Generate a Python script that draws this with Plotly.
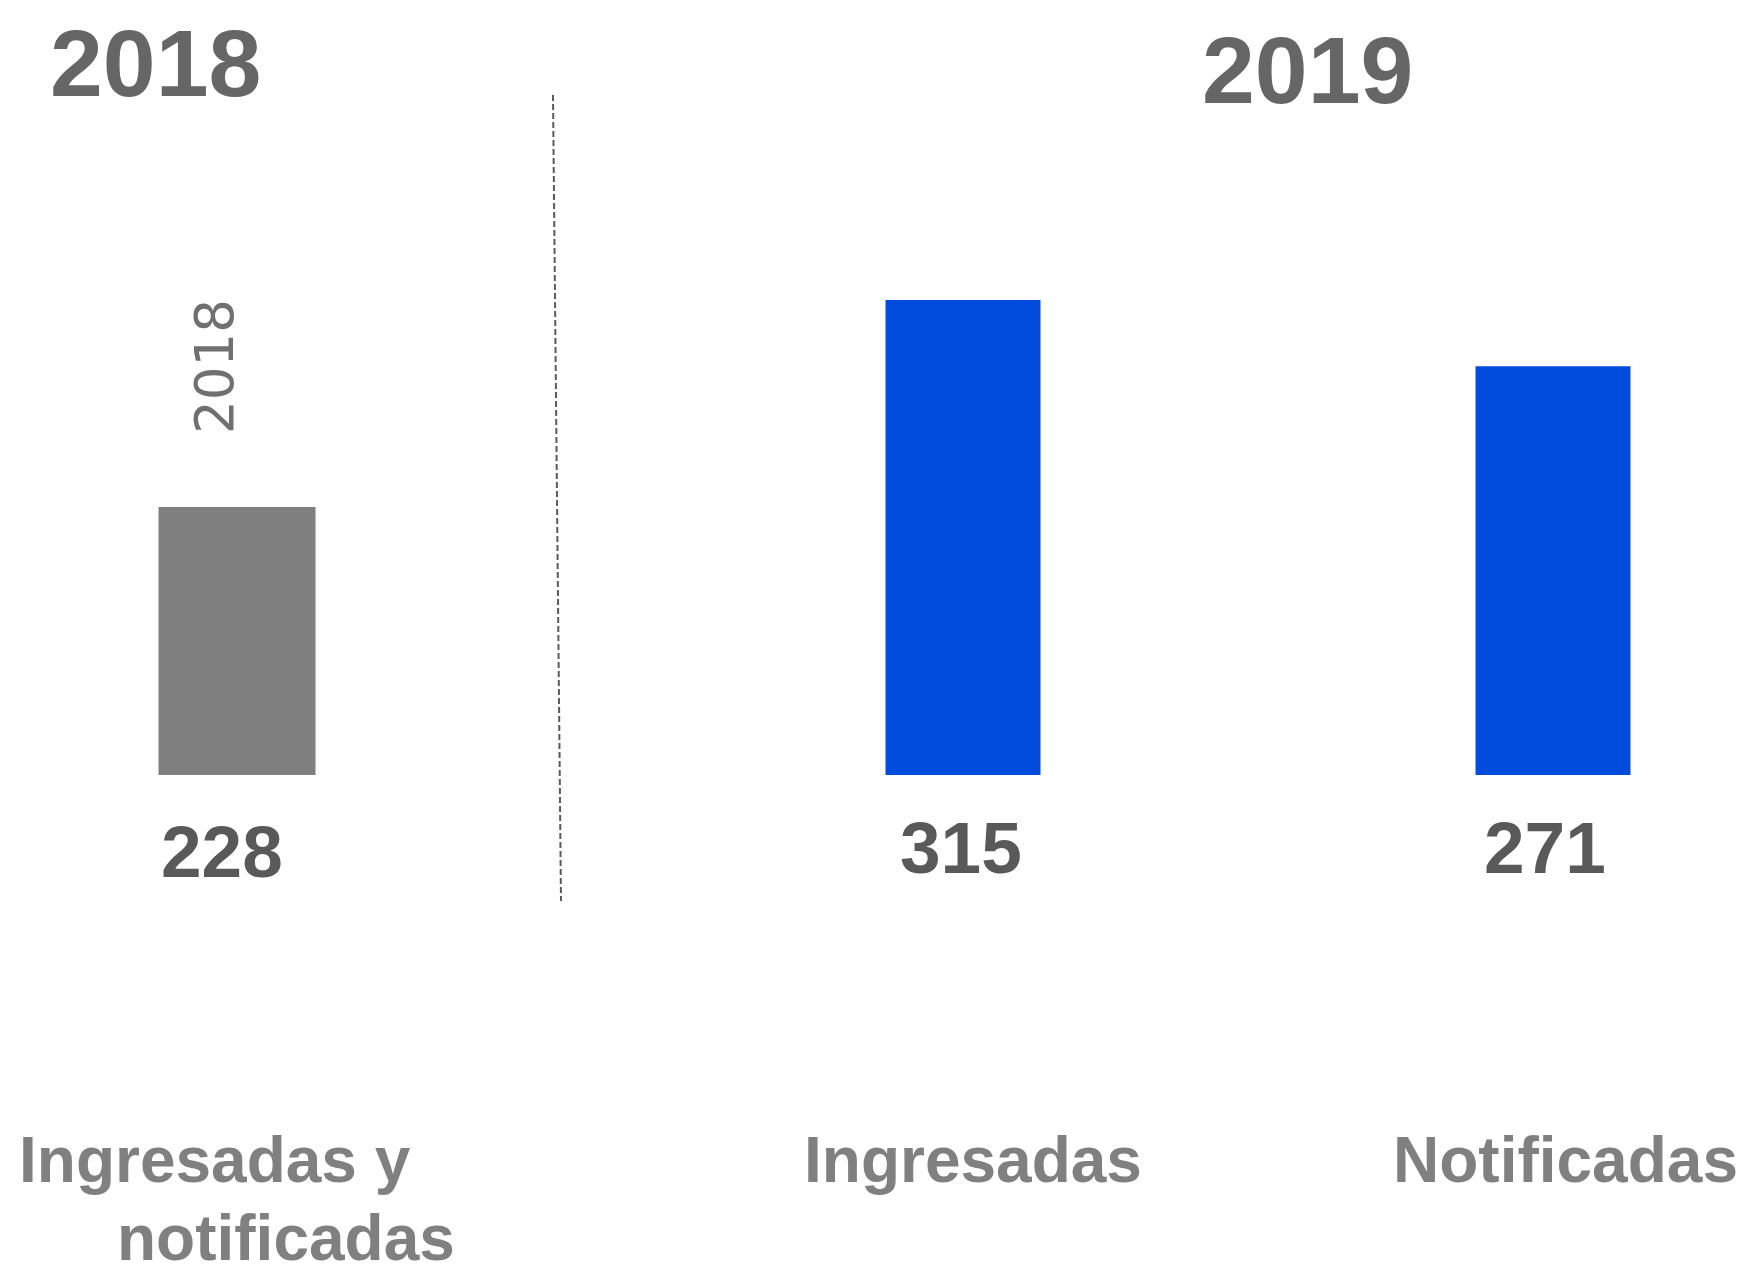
import plotly.graph_objects as go

# ---- data ----
cat_2018 = ["Ingresadas y notificadas"]
val_2018 = [228]
cat_2019 = ["Ingresadas", "Notificadas"]
val_2019 = [315, 271]
year_titles = ["2018", "2019"]

OFF = 8                      # page body margin
W, H = 1749 - OFF, 1265 - OFF
FONT = "Liberation Sans, Arial, sans-serif"

def px_x(p):                 # page px -> paper x
    return (p - OFF) / W

def py(p):                   # page px -> paper y
    return 1 - (p - OFF) / H

fig = go.Figure()

fig.add_trace(go.Bar(
    x=[0], y=val_2018, width=157 / 552, marker=dict(color="#7f7f7f", line=dict(width=0)),
    xaxis="x", yaxis="y", showlegend=False, hoverinfo="skip"))
fig.add_trace(go.Bar(
    x=list(range(len(cat_2019))), y=val_2019, width=155 / 590,
    marker=dict(color="#014cdc", line=dict(width=0)),
    xaxis="x2", yaxis="y2", showlegend=False, hoverinfo="skip"))

ann = []
ann.append(dict(text=year_titles[0], x=px_x(155), y=py(63), xref="paper", yref="paper",
                xanchor="center", yanchor="middle", showarrow=False,
                font=dict(family=FONT, size=95, color="#666666", weight="bold")))
ann.append(dict(text=year_titles[1], x=px_x(1307), y=py(70), xref="paper", yref="paper",
                xanchor="center", yanchor="middle", showarrow=False,
                font=dict(family=FONT, size=95, color="#666666", weight="bold")))
ann.append(dict(text=year_titles[0], x=px_x(214), y=py(367), xref="paper", yref="paper",
                xanchor="center", yanchor="middle", showarrow=False, textangle=-90,
                font=dict(family="DejaVu Sans, sans-serif", size=53, color="#707070")))
ann.append(dict(text=str(val_2018[0]), x=px_x(222), y=py(852), xref="paper", yref="paper",
                xanchor="center", yanchor="middle", showarrow=False,
                font=dict(family=FONT, size=73, color="#595959", weight="bold")))
for v, cx in zip(val_2019, [961, 1545]):
    ann.append(dict(text=str(v), x=px_x(cx), y=py(847), xref="paper", yref="paper",
                    xanchor="center", yanchor="middle", showarrow=False,
                    font=dict(family=FONT, size=73, color="#595959", weight="bold")))
words = cat_2018[0].split(" ")
line1 = " ".join(words[:2])
line2 = " ".join(words[2:])
ann.append(dict(text=line1, x=px_x(215), y=py(1160), xref="paper", yref="paper",
                xanchor="center", yanchor="middle", showarrow=False,
                font=dict(family=FONT, size=64, color="#808080", weight="bold")))
ann.append(dict(text=line2, x=px_x(286), y=py(1238), xref="paper", yref="paper",
                xanchor="center", yanchor="middle", showarrow=False,
                font=dict(family=FONT, size=64, color="#808080", weight="bold")))
for c, cx in zip(cat_2019, [973, 1565]):
    ann.append(dict(text=c, x=px_x(cx), y=py(1160), xref="paper", yref="paper",
                    xanchor="center", yanchor="middle", showarrow=False,
                    font=dict(family=FONT, size=64, color="#808080", weight="bold")))

axis_off = dict(showgrid=False, zeroline=False, showticklabels=False, showline=False, ticks="")

L = 552                        # left panel width (figure px)
R = W - L                      # right panel width
base = H - (775 - OFF)         # zero line distance from bottom
fig.update_layout(
    width=W, height=H,
    margin=dict(l=0, r=0, t=0, b=0),
    paper_bgcolor="white", plot_bgcolor="white",
    xaxis=dict(domain=[0, L / W], range=[-(237 - OFF) / L, 1 - (237 - OFF) / L], **axis_off),
    yaxis=dict(domain=[0, 1], range=[-base / 1.175, (H - base) / 1.175], **axis_off),
    xaxis2=dict(domain=[L / W, 1],
                range=[-(963 - OFF - L) / 590, -(963 - OFF - L) / 590 + R / 590],
                anchor="y2", **axis_off),
    yaxis2=dict(domain=[0, 1], range=[-base / 1.508, (H - base) / 1.508], anchor="x2", **axis_off),
    annotations=ann,
    shapes=[dict(type="line", xref="paper", yref="paper",
                 x0=px_x(553), y0=py(95), x1=px_x(561), y1=py(901),
                 line=dict(color="#5a5a5a", width=2, dash="6px,3px"))],
)

fig.write_html("out.html")
